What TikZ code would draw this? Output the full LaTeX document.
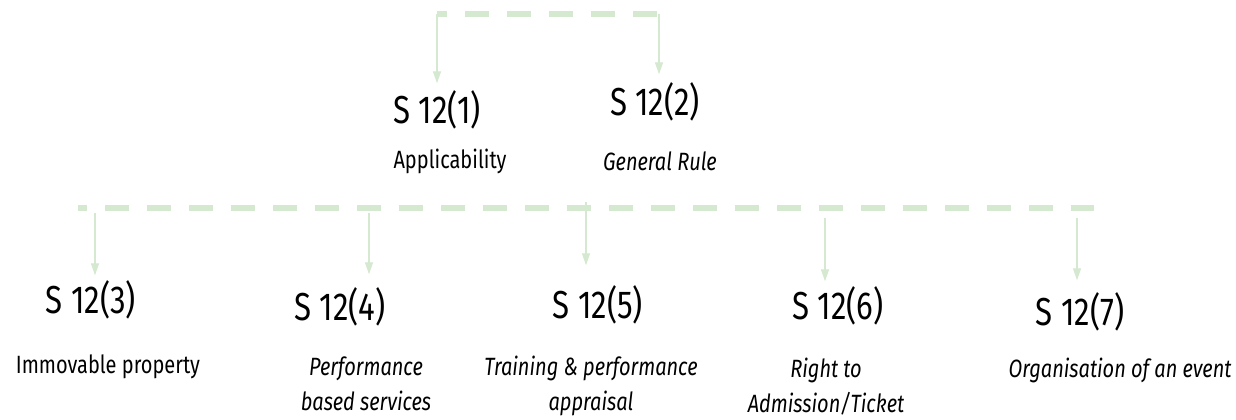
\documentclass[tikz,border=0pt]{standalone}
\usepackage{fontspec}
\setmainfont{Fira Sans}[FakeStretch=0.8]
\usetikzlibrary{arrows.meta}
\definecolor{softgreen}{RGB}{213,232,208}

\begin{document}
\begin{tikzpicture}[x=0.5pt, y=-0.5pt, inner sep=0pt,
    sec/.style={font=\fontsize{19.5}{22}\selectfont},
    desc/.style={font=\fontsize{12.5}{17.5}\selectfont, align=center, anchor=base},
    descit/.style={desc, font=\fontsize{12.5}{17.5}\selectfont\itshape},
    rail/.style={draw=softgreen, line width=2.8pt, dash pattern=on 12pt off 9pt},
    arr/.style={draw=softgreen, line width=0.65pt, -{Triangle[length=6pt, width=4pt]}}]
  \useasboundingbox (0,0) rectangle (1236,419);

  % upper branch
  \coordinate (t1) at (437,14);
  \coordinate (t2) at (659,14);
  \path[rail, dash phase=7pt] (t1) -- (t2);

  \node[sec] (s1) at (437,110) {S 12(1)};
  \node[sec] (s2) at (655,102) {S 12(2)};
  \node[desc] (d1) at (450,168) {Applicability};
  \node[descit] (d2) at (660,170) {General Rule};

  \path[arr, shorten >=3.5pt] (t1) -- (t1 |- s1.north);
  \path[arr, shorten >=4pt] (t2) -- (t2 |- s2.north);

  % lower branch
  \coordinate (b0) at (78,208);
  \coordinate (b8) at (1094,208);
  \path[rail, dash phase=7.5pt] (b0) -- (b8);

  \coordinate (a3) at (95,213);
  \coordinate (a4) at (369,213);
  \coordinate (a5) at (586,202);
  \coordinate (a6) at (825,218);
  \coordinate (a7) at (1077,218);

  \node[sec] (s3) at (91,300) {S 12(3)};
  \node[sec] (s4) at (340,307) {S 12(4)};
  \node[sec] (s5) at (598,305) {S 12(5)};
  \node[sec] (s6) at (838,306) {S 12(6)};
  \node[sec] (s7) at (1080,312) {S 12(7)};

  % two-line labels sit on their last baseline
  \node[desc] (d3) at (108,373) {Immovable property};
  \node[descit] (d4) at (366,410) {Performance\\based services};
  \node[descit] (d5) at (591,410) {Training \& performance\\appraisal};
  \node[descit] (d6) at (826,412) {Right to\\Admission/Ticket};
  \node[descit] (d7) at (1120,377) {Organisation of an event};

  \path[arr, shorten >=2.5pt] (a3) -- (a3 |- s3.north);
  \path[arr, shorten >=6.5pt] (a4) -- (a4 |- s4.north);
  \path[arr, shorten >=10pt] (a5) -- (a5 |- s5.north);
  \path[arr, shorten >=2.5pt] (a6) -- (a6 |- s6.north);
  \path[arr, shorten >=6pt] (a7) -- (a7 |- s7.north);
\end{tikzpicture}
\end{document}
